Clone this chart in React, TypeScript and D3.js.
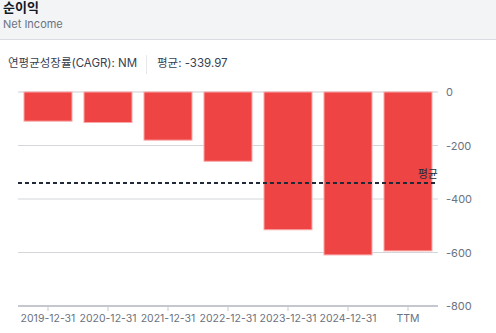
import React from "react";
import * as d3 from "d3";

const categories = ["2019-12-31", "2020-12-31", "2021-12-31", "2022-12-31", "2023-12-31", "2024-12-31", "TTM"];
const values = [-109, -114, -180, -259, -515, -609, -594];
const yTicks = [0, -200, -400, -600, -800];
const average = -339.97;

const W = 496;
const H = 333;
const FONT = "Inter, 'Noto Sans CJK KR', sans-serif";

export default function App() {
  const x = d3.scaleBand<string>().domain(categories).range([18, 438]).paddingInner(0.2).paddingOuter(0.1);
  const y = d3.scaleLinear().domain([-800, 0]).range([306, 92]);

  return (
    <div style={{ position: "fixed", left: 0, top: 0, width: W, height: H, background: "#fff" }}>
      <svg width={W} height={H} style={{ display: "block", fontFamily: FONT }}>
        <rect x={0} y={0} width={W} height={39} fill="#f3f4f6" />
        <line x1={0} x2={W} y1={39.5} y2={39.5} stroke="#d9dbe0" />
        <text x={3} y={12} fontSize={13} fontWeight={700} fill="#111827">순이익</text>
        <text x={3} y={28} fontSize={11} fill="#6b7280">Net Income</text>

        <text x={8} y={67} fontSize={11.5} fill="#374151">연평균성장률(CAGR): NM</text>
        <line x1={146.5} x2={146.5} y1={55} y2={74} stroke="#e5e7eb" />
        <text x={157} y={67} fontSize={11.5} fill="#374151">평균: -339.97</text>

        {yTicks.map((t) => (
          <g key={t}>
            <line x1={18} x2={438} y1={y(t)} y2={y(t)} stroke={t === -800 ? "#c4c7cd" : "#d4d6da"} strokeWidth={t === -800 ? 2 : 1} />
            <text x={446} y={y(t) + 4} fontSize={11} fill="#6b7280">{t}</text>
          </g>
        ))}
        <line x1={18} x2={438} y1={y(0)} y2={y(0)} stroke="#e5e7eb" strokeWidth={2} />

        {categories.map((c, i) => (
          <rect
            key={c}
            x={x(c)!}
            y={y(0)}
            width={x.bandwidth()}
            height={y(values[i]) - y(0)}
            fill="#ef4444"
            stroke="#f9a8a8"
            strokeWidth={1}
          />
        ))}

        {categories.map((c) => {
          const cx = x(c)! + x.bandwidth() / 2;
          return (
            <g key={c}>
              <line x1={cx} x2={cx} y1={306} y2={311} stroke="#c4c7cd" />
              <text x={cx} y={322} fontSize={10.5} fill="#6b7280" textAnchor="middle">{c}</text>
            </g>
          );
        })}

        <line x1={18} x2={438} y1={y(average)} y2={y(average)} stroke="#1f2937" strokeWidth={2} strokeDasharray="4 3" />
        <text x={438} y={y(average) - 5} fontSize={11} fill="#1f2937" textAnchor="end">평균</text>
      </svg>
    </div>
  );
}
